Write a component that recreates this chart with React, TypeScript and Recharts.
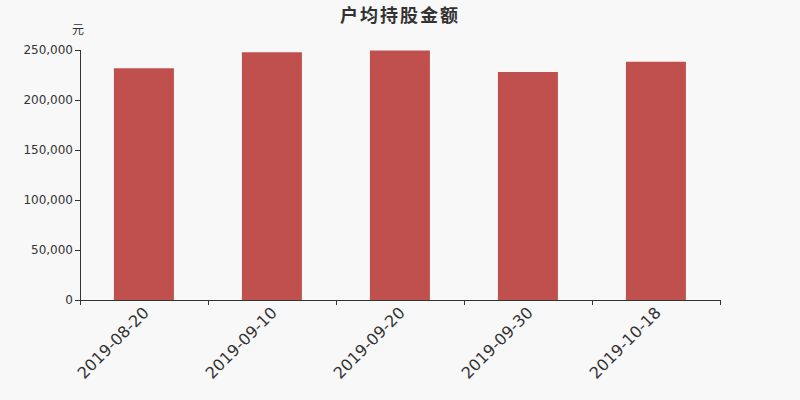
import React from "react";
import { BarChart, Bar, XAxis, YAxis } from "recharts";

const categories = ["2019-08-20", "2019-09-10", "2019-09-20", "2019-09-30", "2019-10-18"];
const values = [231700, 247700, 249600, 228000, 238300];
const yTicks = [0, 50000, 100000, 150000, 200000, 250000];

const data = categories.map((c, i) => ({ date: c, value: values[i] }));

const FONT = "'DejaVu Sans', 'Noto Sans CJK SC', sans-serif";
const PLOT_WIDTH = 640;

const XTick = (props: any) => {
  const { x, y, payload, index } = props;
  const band = PLOT_WIDTH / categories.length;
  const axisY = y - 8;
  const ty = y + 2;
  const tx = x + 2;
  return (
    <g>
      <line x1={x - band / 2} x2={x - band / 2} y1={axisY} y2={axisY + 5} stroke="#333" shapeRendering="crispEdges" />
      {index === categories.length - 1 && (
        <line x1={x + band / 2} x2={x + band / 2} y1={axisY} y2={axisY + 5} stroke="#333" shapeRendering="crispEdges" />
      )}
      <text
        x={tx}
        y={ty}
        transform={`rotate(-45, ${tx}, ${ty})`}
        textAnchor="end"
        dominantBaseline="central"
        fontSize={16}
        fill="#333"
        fontFamily={FONT}
      >
        {payload.value}
      </text>
    </g>
  );
};

export default function App() {
  return (
    <div style={{ position: "absolute", left: 0, top: 0, width: 800, height: 400, background: "#f8f8f8", fontFamily: FONT }}>
      <div style={{ position: "absolute", left: 0, top: 1, width: 800, textAlign: "center", fontSize: 18, fontWeight: "bold", color: "#333", letterSpacing: 2 }}>
        户均持股金额
      </div>
      <div style={{ position: "absolute", left: 72, top: 20, fontSize: 12, color: "#333" }}>元</div>
      <BarChart
        width={800}
        height={400}
        data={data}
        margin={{ top: 50, right: 80, bottom: 0, left: 0 }}
        barCategoryGap="26.5%"
      >
        <XAxis
          dataKey="date"
          height={100}
          interval={0}
          tick={<XTick />}
          tickLine={false}
          axisLine={{ stroke: "#333", shapeRendering: "crispEdges" }}
          tickSize={0}
          tickMargin={8}
        />
        <YAxis
          width={80}
          domain={[0, 250000]}
          ticks={yTicks}
          interval={0}
          tickFormatter={(v: number) => v.toLocaleString("en-US")}
          tick={{ fontSize: 12, fill: "#333", fontFamily: FONT }}
          tickLine={{ stroke: "#333", shapeRendering: "crispEdges" }}
          axisLine={{ stroke: "#333", shapeRendering: "crispEdges" }}
          tickSize={5}
        />
        <Bar dataKey="value" fill="#c0504d" isAnimationActive={false} />
      </BarChart>
    </div>
  );
}
